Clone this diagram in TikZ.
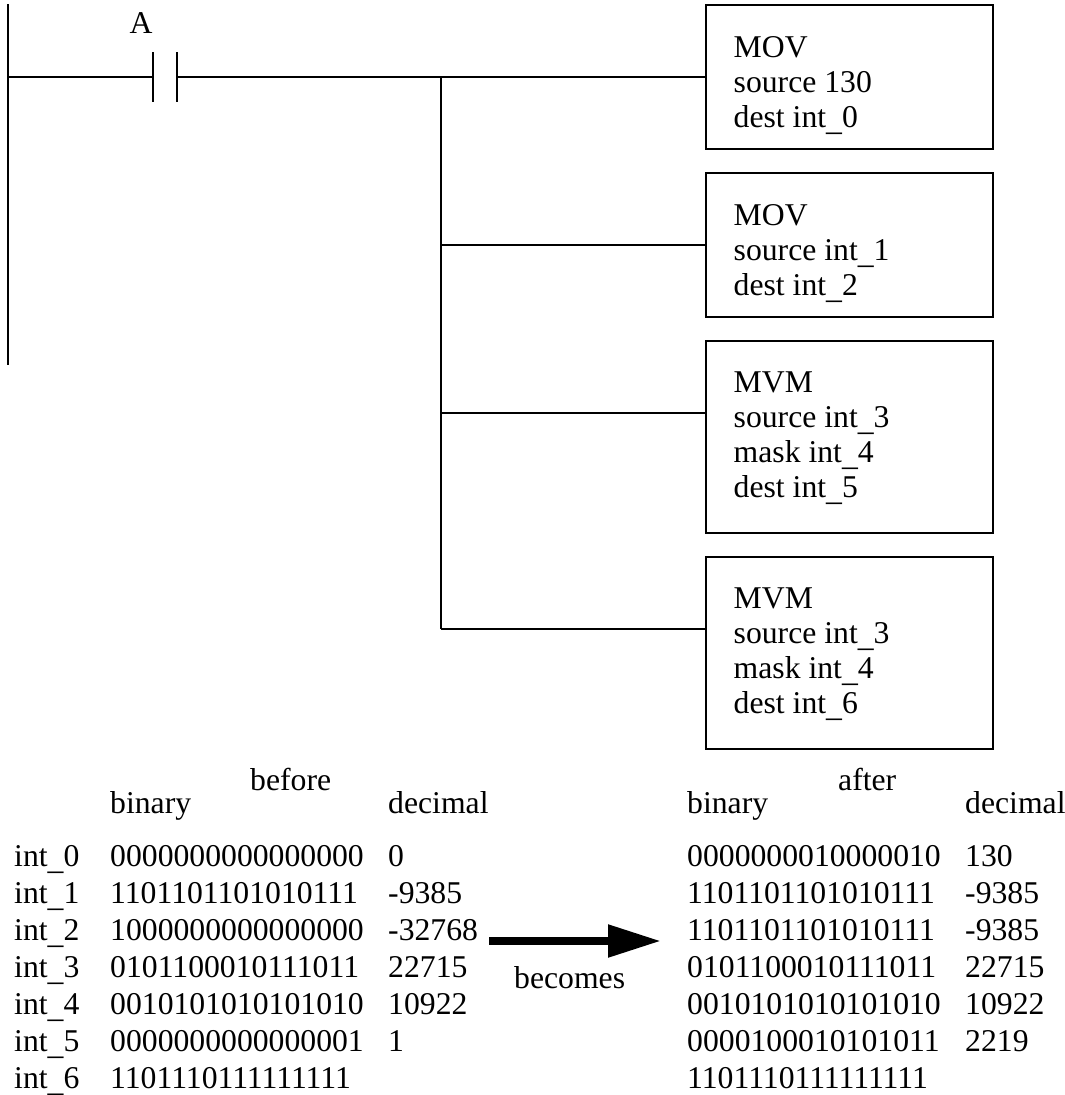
\documentclass[tikz,border=0pt]{standalone}
\usepackage{fontspec}
\setmainfont{Liberation Serif}
\usetikzlibrary{arrows.meta}
\newcommand{\lowus}{\raisebox{-3pt}{\_}}
\tikzset{
  lbl/.style={anchor=base west,inner sep=0pt,font=\fontsize{31.7}{37}\selectfont},
  boxtext/.style={anchor=north west,inner sep=0pt,align=left,font=\fontsize{31.7}{35}\selectfont},
  instr/.style={draw,line width=2pt,minimum width=287.5pt,anchor=north west,inner sep=0pt,outer sep=0pt},
  wire/.style={line width=2pt},
  bigarrow/.style={line width=8.3pt,-{Triangle[length=53pt,width=31pt]}}
}
\begin{document}
\begin{tikzpicture}[x=1pt,y=-1pt]
\useasboundingbox (0,0) rectangle (1065,1095);
% instruction boxes
\node[instr,minimum height=143.5pt] (box1) at (705.5,5) {};
\node[instr,minimum height=143.5pt] (box2) at (705.5,173) {};
\node[instr,minimum height=192pt] (box3) at (705.5,341) {};
\node[instr,minimum height=192pt] (box4) at (705.5,557) {};
\node[boxtext] (t1) at (733.5,36) {MOV\\source 130\\dest int\lowus 0};
\node[boxtext] (t2) at (733.5,204) {MOV\\source int\lowus 1\\dest int\lowus 2};
\node[boxtext] (t3) at (733.5,372) {MVM\\source int\lowus 3\\mask int\lowus 4\\dest int\lowus 5};
\node[boxtext] (t4) at (733.5,588) {MVM\\source int\lowus 3\\mask int\lowus 4\\dest int\lowus 6};
% ladder rung
\coordinate (railtop) at (8.3,4);
\coordinate (railbot) at (8.3,365);
\coordinate (rung) at (8.3,77);
\coordinate (cl) at (153,77);
\coordinate (cr) at (177,77);
\coordinate (cltop) at (153,52);
\coordinate (clbot) at (153,102);
\coordinate (crtop) at (177,52);
\coordinate (crbot) at (177,102);
\coordinate (bus1) at (441,77);
\coordinate (bus2) at (441,245);
\coordinate (bus3) at (441,413);
\coordinate (bus4) at (441,629);
\draw[wire] (railtop) -- (railbot);
\draw[wire] (rung) -- (cl);
\draw[wire] (cltop) -- (clbot);
\draw[wire] (crtop) -- (crbot);
\draw[wire] (cr) -- (bus1 -| box1.west);
\draw[wire] (bus1) -- (bus4);
\draw[wire] (bus2) -- (bus2 -| box2.west);
\draw[wire] (bus3) -- (bus3 -| box3.west);
\draw[wire] (bus4) -- (bus4 -| box4.west);
\node[lbl] (contactA) at (129.5,33) {A};
% tables
\node[lbl] (before) at (250,790) {before};
\node[lbl] (after) at (838,790) {after};
\node[lbl] (bin1) at (110,813) {binary};
\node[lbl] (dec1) at (388,813) {decimal};
\node[lbl] (bin2) at (687,813) {binary};
\node[lbl] (dec2) at (965,813) {decimal};
\foreach \i/\y/\bb/\db/\ba/\da in {
 0/866/0000000000000000/0/0000000010000010/130,
 1/903/1101101101010111/-9385/1101101101010111/-9385,
 2/940/1000000000000000/-32768/1101101101010111/-9385,
 3/977/0101100010111011/22715/0101100010111011/22715,
 4/1014/0010101010101010/10922/0010101010101010/10922,
 5/1051/0000000000000001/1/0000100010101011/2219,
 6/1088/1101110111111111//1101110111111111/}{
  \node[lbl] (n\i) at (14,\y) {int\lowus \i};
  \node[lbl] (bb\i) at (110,\y) {\bb};
  \node[lbl] (db\i) at (388,\y) {\db};
  \node[lbl] (ba\i) at (687,\y) {\ba};
  \node[lbl] (da\i) at (965,\y) {\da};
}
% arrow
\coordinate (arrstart) at (489,941);
\coordinate (arrend) at (661,941);
\draw[bigarrow] (arrstart) -- (arrend);
\node[lbl] (becomes) at (514,988) {becomes};
\end{tikzpicture}
\end{document}
